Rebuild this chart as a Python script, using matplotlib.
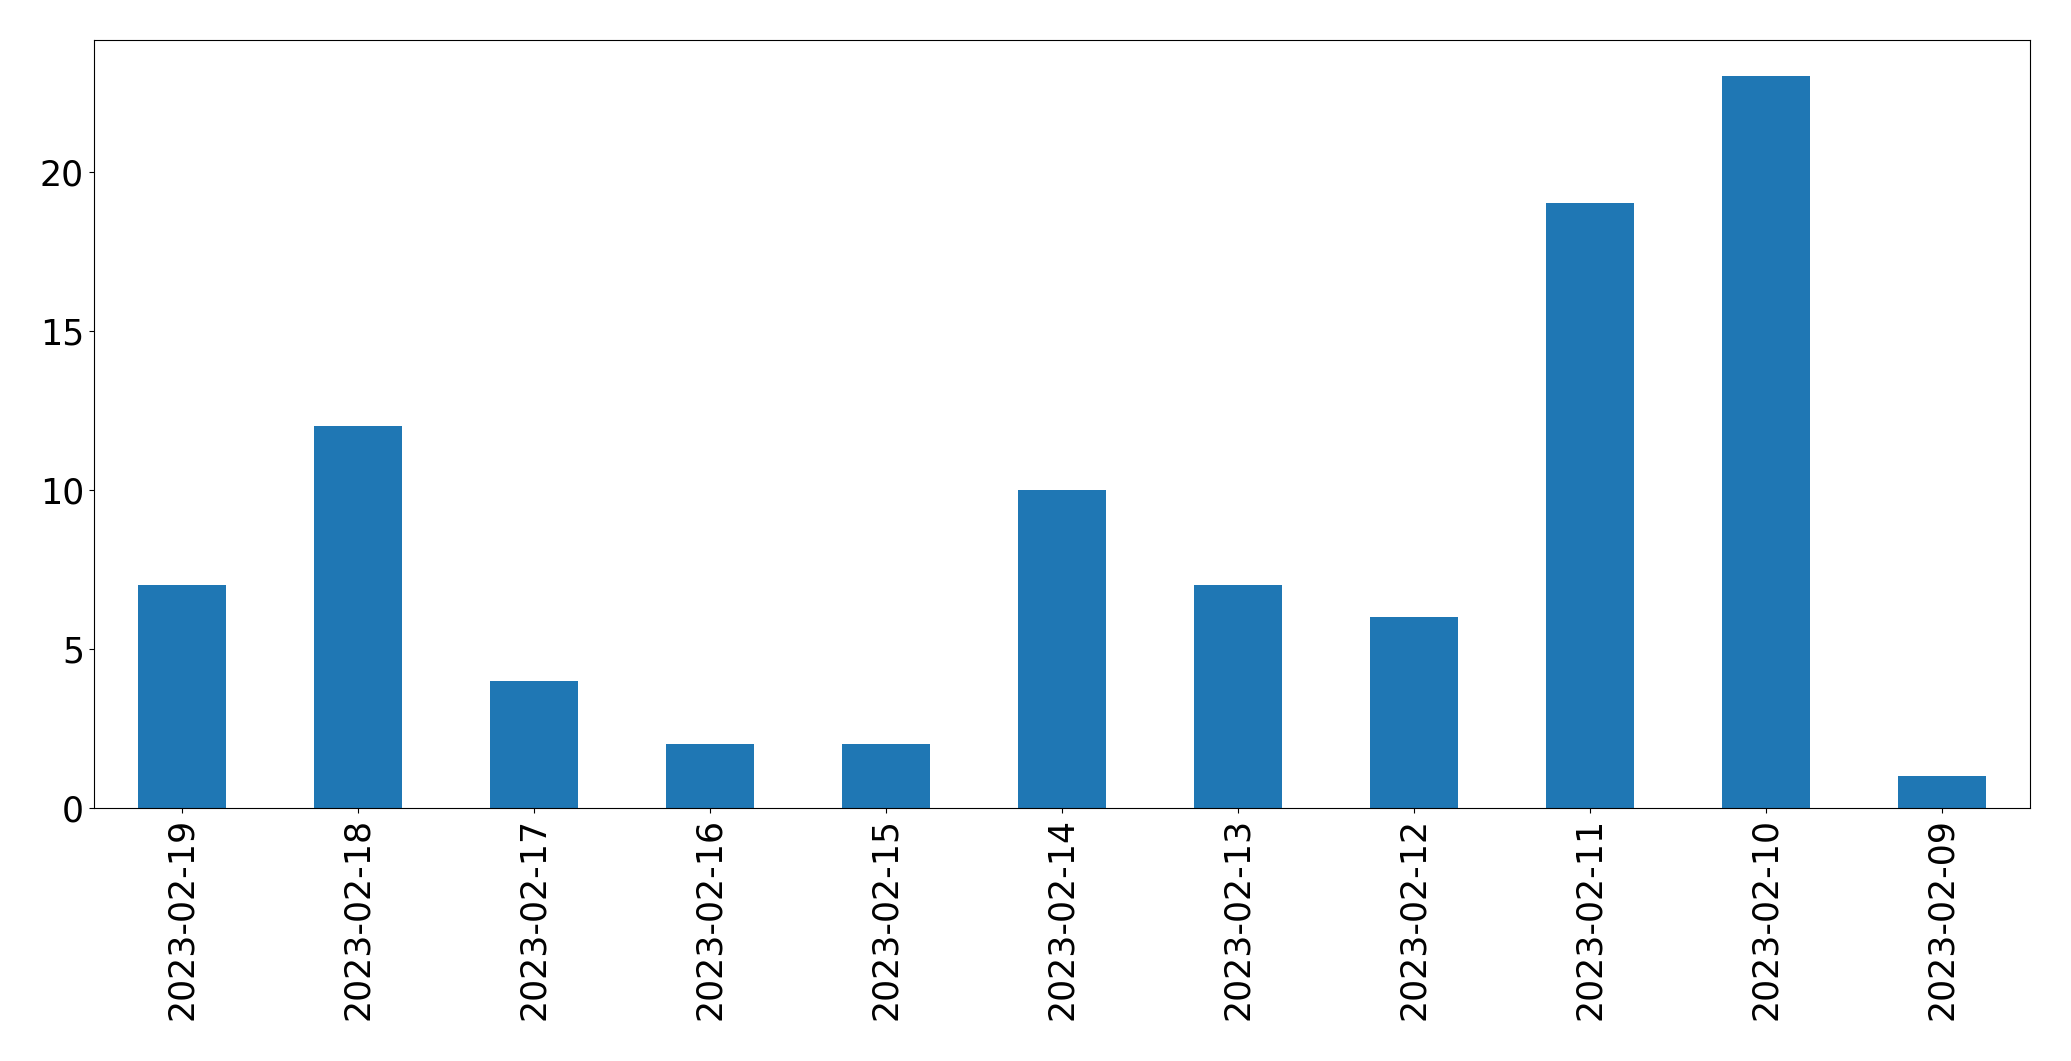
import matplotlib
matplotlib.use("Agg")
import matplotlib.pyplot as plt
import pandas as pd

dates = ["2023-02-19", "2023-02-18", "2023-02-17", "2023-02-16", "2023-02-15",
         "2023-02-14", "2023-02-13", "2023-02-12", "2023-02-11", "2023-02-10",
         "2023-02-09"]
counts = [7, 12, 4, 2, 2, 10, 7, 6, 19, 23, 1]

s = pd.Series(counts, index=dates)

fig = plt.figure(figsize=(20.71, 10.61), dpi=100)
ax = fig.add_axes([93.8/2071, 1 - 808/1061, (2030-93.8)/2071, (808-39.6)/1061])
s.plot.bar(ax=ax, color="#1f77b4", fontsize=25)
ax.tick_params(labelsize=25)
fig.savefig("out.png", dpi=100)
